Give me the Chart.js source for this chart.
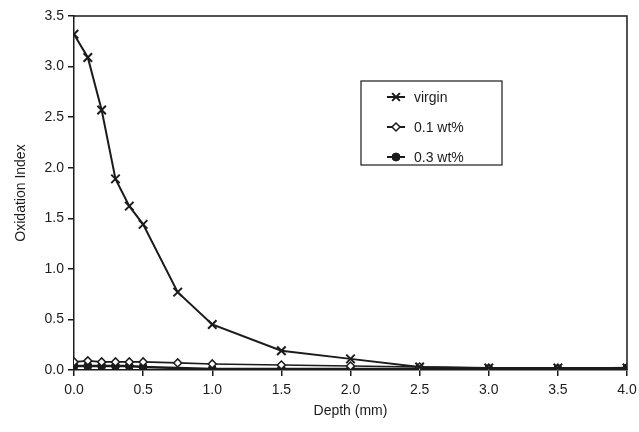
<!DOCTYPE html>
<html>
<head>
<meta charset="utf-8">
<script src="https://cdn.jsdelivr.net/npm/chart.js@4.4.1/dist/chart.umd.min.js"></script>
<style>
    html, body { margin: 0; padding: 0; background: #fff; }
    #wrap { width: 639px; height: 432px; }
</style>
</head>
<body>
<div id="wrap"><canvas id="oxChart" width="639" height="432"></canvas></div>
<script>
// depth (mm) and oxidation index
const virginDepth = [0, 0.1, 0.2, 0.3, 0.4, 0.5, 0.75, 1.0, 1.5, 2.0, 2.5, 3.0, 3.5, 4.0];
const virginOI = [3.32, 3.09, 2.57, 1.89, 1.62, 1.44, 0.77, 0.45, 0.19, 0.11, 0.03, 0.02, 0.02, 0.02];

const wt01Depth = [0, 0.1, 0.2, 0.3, 0.4, 0.5, 0.75, 1.0, 1.5, 2.0, 2.5, 3.0, 3.5, 4.0];
const wt01OI = [0.08, 0.09, 0.08, 0.08, 0.08, 0.08, 0.07, 0.06, 0.05, 0.04, 0.03, 0.02, 0.02, 0.02];

const wt03Depth = [0, 0.1, 0.2, 0.3, 0.4, 0.5, 1.0, 1.5, 2.0, 2.5, 3.0, 3.5, 4.0];
const wt03OI = [0.04, 0.04, 0.04, 0.04, 0.04, 0.03, 0.01, 0.01, 0.01, 0.01, 0.01, 0.01, 0.02];

const seriesLabels = ["virgin", "0.1 wt%", "0.3 wt%"];
const ink = "#1b1b1b";
const fontFamily = "'Liberation Sans', Arial, sans-serif";

function toPoints(xs, ys) {
    return xs.map((x, i) => ({ x: x, y: ys[i] }));
}

// frame on top/right plus the boxed legend inside the plot
const framePlugin = {
    id: "frame",
    afterDraw(chart) {
        const { ctx, chartArea: a } = chart;
        ctx.save();
        ctx.strokeStyle = ink;
        ctx.lineWidth = 1.5;
        ctx.beginPath();
        ctx.moveTo(a.left, a.top);
        ctx.lineTo(a.right, a.top);
        ctx.lineTo(a.right, a.bottom);
        ctx.stroke();

        // legend box
        const bx = 361, by = 81, bw = 141, bh = 84;
        ctx.fillStyle = "#fff";
        ctx.fillRect(bx, by, bw, bh);
        ctx.lineWidth = 1.2;
        ctx.strokeRect(bx, by, bw, bh);
        ctx.font = "14px " + fontFamily;
        ctx.textBaseline = "middle";
        chart.data.datasets.forEach((ds, i) => {
            const y = by + 16 + i * 30;
            const x0 = bx + 26, x1 = bx + 44, xm = (x0 + x1) / 2;
            ctx.strokeStyle = ink;
            ctx.lineWidth = 2;
            ctx.beginPath();
            ctx.moveTo(x0, y);
            ctx.lineTo(x1, y);
            ctx.stroke();
            ctx.fillStyle = ds.pointBackgroundColor;
            ctx.lineWidth = ds.pointBorderWidth;
            ctx.beginPath();
            const r = ds.pointRadius;
            if (ds.pointStyle === "crossRot") {
                const d = r * 0.65;
                ctx.moveTo(xm - d, y - d); ctx.lineTo(xm + d, y + d);
                ctx.moveTo(xm + d, y - d); ctx.lineTo(xm - d, y + d);
                ctx.stroke();
            } else if (ds.pointStyle === "rectRot") {
                ctx.moveTo(xm, y - r); ctx.lineTo(xm + r, y); ctx.lineTo(xm, y + r); ctx.lineTo(xm - r, y);
                ctx.closePath(); ctx.fill(); ctx.stroke();
            } else {
                ctx.arc(xm, y, r, 0, Math.PI * 2);
                ctx.fill(); ctx.stroke();
            }
            ctx.fillStyle = ink;
            ctx.fillText(ds.label, x1 + 9, y + 1);
        });
        ctx.restore();
    }
};

const ctx = document.getElementById("oxChart").getContext("2d");
new Chart(ctx, {
    type: "line",
    data: {
        datasets: [
            {
                label: seriesLabels[0],
                data: toPoints(virginDepth, virginOI),
                borderColor: ink,
                borderWidth: 2,
                pointStyle: "crossRot",
                pointRadius: 6,
                pointBorderWidth: 2,
                pointBorderColor: ink,
                pointBackgroundColor: ink,
                tension: 0,
            },
            {
                label: seriesLabels[1],
                data: toPoints(wt01Depth, wt01OI),
                borderColor: ink,
                borderWidth: 1.6,
                pointStyle: "rectRot",
                pointRadius: 4,
                pointBorderWidth: 1.5,
                pointBorderColor: ink,
                pointBackgroundColor: "#fff",
                tension: 0,
            },
            {
                label: seriesLabels[2],
                data: toPoints(wt03Depth, wt03OI),
                borderColor: ink,
                borderWidth: 2.5,
                pointStyle: "circle",
                pointRadius: 4,
                pointBorderWidth: 1,
                pointBorderColor: ink,
                pointBackgroundColor: ink,
                tension: 0,
            },
        ],
    },
    options: {
        responsive: false,
        animation: false,
        layout: { padding: { left: 0, top: 16, right: 0, bottom: 0 } },
        plugins: {
            legend: { display: false },
            tooltip: { enabled: false },
        },
        scales: {
            x: {
                type: "linear",
                min: 0,
                max: 4,
                afterFit: scale => {
                    scale.height = 62;
                    scale.paddingRight = 12;
                },
                ticks: {
                    stepSize: 0.5,
                    color: ink,
                    padding: 6,
                    font: { family: fontFamily, size: 14 },
                    callback: v => v.toFixed(1),
                },
                grid: { drawOnChartArea: false, tickLength: 6, color: ink, lineWidth: 1.5 },
                border: { color: ink, width: 1.5 },
                title: {
                    display: true,
                    text: "Depth (mm)",
                    color: ink,
                    padding: { top: 0, bottom: 12 },
                    font: { family: fontFamily, size: 14 },
                },
            },
            y: {
                min: 0,
                max: 3.5,
                afterFit: scale => { scale.width = 74; },
                ticks: {
                    stepSize: 0.5,
                    color: ink,
                    padding: 4,
                    font: { family: fontFamily, size: 14 },
                    callback: v => v.toFixed(1),
                },
                grid: { drawOnChartArea: false, tickLength: 6, color: ink, lineWidth: 1.5 },
                border: { color: ink, width: 1.5 },
                title: {
                    display: true,
                    text: "Oxidation Index",
                    color: ink,
                    padding: { top: 13, bottom: 0 },
                    font: { family: fontFamily, size: 14 },
                },
            },
        },
    },
    plugins: [framePlugin],
});
</script>
</body>
</html>
